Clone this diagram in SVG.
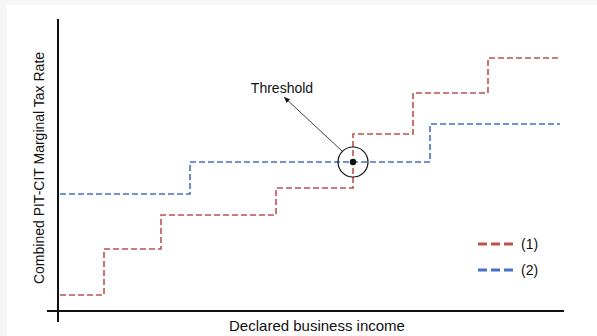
<svg xmlns="http://www.w3.org/2000/svg" width="597" height="336" viewBox="0 0 597 336">
<style>
text{font-family:"Liberation Sans",Arial,sans-serif;fill:#111;font-size:14px}
.ax{stroke:#111;stroke-width:2;fill:none}
.s1{stroke:#c0504d;stroke-width:1.6;fill:none;stroke-dasharray:6,3}
.s2{stroke:#4472c4;stroke-width:1.6;fill:none;stroke-dasharray:6,3}
.l1{stroke:#c0504d;stroke-width:3;stroke-dasharray:9,4}
.l2{stroke:#4472c4;stroke-width:3;stroke-dasharray:9,4}
</style>
<defs>
<marker id="ah" markerWidth="7" markerHeight="6" refX="6" refY="3" orient="auto" markerUnits="userSpaceOnUse">
<path d="M0,0.5 L6,3 L0,5.5 z" fill="#111"/>
</marker>
</defs>
<rect width="597" height="336" fill="#f6f6f6"/>
<rect x="7" y="5" width="590" height="331" fill="#fff"/>
<g id="axes">
<line class="ax" x1="58" y1="19" x2="58" y2="322"/>
<line class="ax" x1="47" y1="311" x2="564" y2="311"/>
<text x="317" y="331" text-anchor="middle" style="font-size:15px">Declared business income</text>
<text transform="translate(44,168) rotate(-90)" text-anchor="middle">Combined PIT-CIT Marginal Tax Rate</text>
</g>
<g id="connectors">
<path id="series1" class="s1" d="M60,295 H104 V249 H161 V215 H276 V188 H353 V134 H413 V93 H488 V58 H560"/>
<path id="series2" class="s2" d="M60,194 H190 V162 H430 V124 H560"/>
<line x1="342" y1="151" x2="284" y2="97" stroke="#111" stroke-width="0.8" marker-end="url(#ah)"/>
</g>
<g id="threshold">
<circle cx="353" cy="162" r="15" fill="none" stroke="#111" stroke-width="1.2"/>
<circle cx="353" cy="162" r="3.2" fill="#111"/>
<text x="282" y="93" text-anchor="middle">Threshold</text>
</g>
<g id="legend">
<line class="l1" x1="478" y1="244" x2="516" y2="244"/>
<text x="521" y="249">(1)</text>
<line class="l2" x1="478" y1="270" x2="516" y2="270"/>
<text x="521" y="275">(2)</text>
</g>
</svg>
